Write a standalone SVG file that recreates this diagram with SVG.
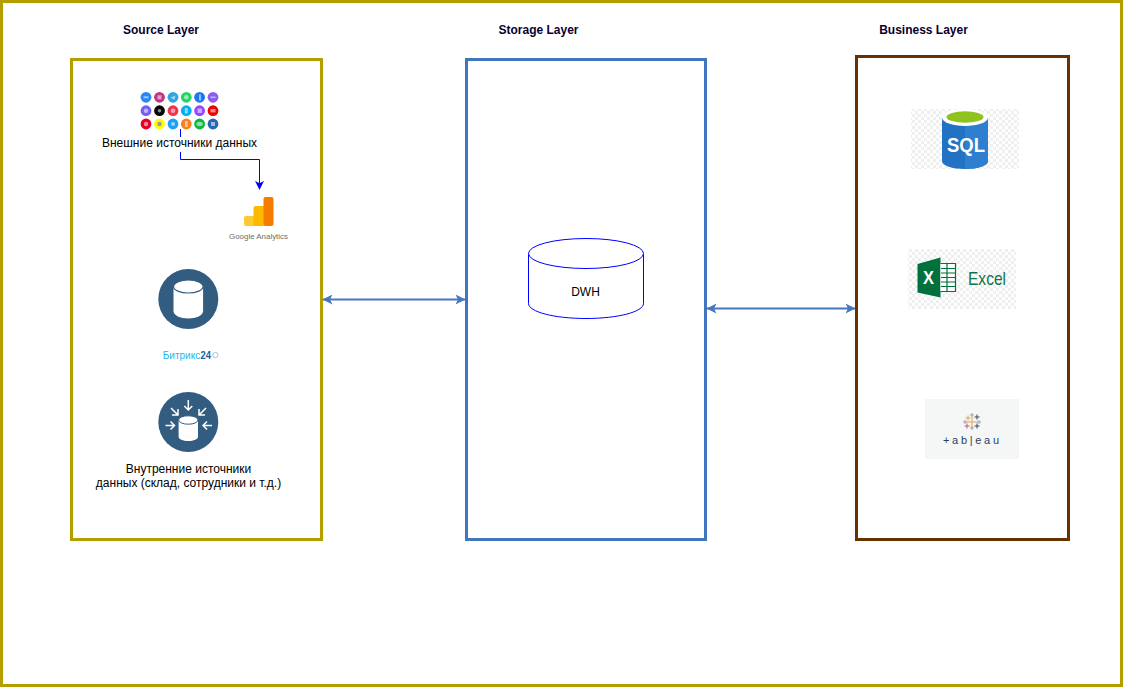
<svg xmlns="http://www.w3.org/2000/svg" width="1123" height="687" viewBox="0 0 1123 687">
<style>
text{font-family:"Liberation Sans",Arial,sans-serif;font-size:12px;fill:#000;text-anchor:middle}
.title{font-weight:bold;fill:#0b0030}
.frame{fill:none;stroke-width:3}
.olive{stroke:#b59f00}
.link{fill:none;stroke:#4677bf;stroke-width:2}
.flow{fill:none;stroke:#0000ff;stroke-width:1}
.dark{fill:#335c81}
.wh{fill:#fff}
.arw{fill:none;stroke:#fff;stroke-width:1.5}
.tb{fill:none;stroke-width:1}
</style>
<defs>
<marker id="hb" viewBox="0 0 10 10" refX="9.500" refY="5" markerWidth="5" markerHeight="5" orient="auto-start-reverse" markerUnits="strokeWidth"><path d="M0 0L10 5L0 10L2.500 5Z" fill="#4677bf"/></marker>
<marker id="bl" viewBox="0 0 10 10" refX="9" refY="5" markerWidth="9" markerHeight="9" orient="auto" markerUnits="strokeWidth"><path d="M0 0L10 5L0 10L2.500 5Z" fill="#0000ff"/></marker>
<pattern id="chk" width="6" height="6" patternUnits="userSpaceOnUse"><rect width="6" height="6" fill="#fff"/><rect width="3" height="3" fill="#efefef"/><rect x="3" y="3" width="3" height="3" fill="#efefef"/></pattern>
</defs>
<rect width="1123" height="687" fill="#fff"/>
<rect id="outer" class="frame olive" x="1.500" y="1.500" width="1120" height="684"/>

<g id="source-layer">
<rect class="frame olive" x="71.500" y="59.500" width="250" height="480"/>
<text class="title" x="161" y="34">Source Layer</text>
</g>
<g id="storage-layer">
<rect class="frame" stroke="#3f76bd" x="466.500" y="59.500" width="239" height="480"/>
<text class="title" x="538.500" y="34">Storage Layer</text>
</g>
<g id="business-layer">
<rect class="frame" stroke="#663300" x="856.500" y="56.500" width="212" height="483"/>
<text class="title" x="923.500" y="34">Business Layer</text>
</g>

<g id="external-sources">
<g>
<circle cx="146" cy="97.300" r="5.400" fill="#2787f5"/><circle cx="159.500" cy="97.300" r="5.400" fill="#c13584"/><circle cx="173" cy="97.300" r="5.400" fill="#2ca5e0"/><circle cx="186.300" cy="97.300" r="5.400" fill="#25d366"/><circle cx="199.600" cy="97.300" r="5.400" fill="#1877f2"/><circle cx="213" cy="97.300" r="5.400" fill="#8a5cf0"/>
<circle cx="146" cy="110.700" r="5.400" fill="#7360f2"/><circle cx="159.500" cy="110.700" r="5.400" fill="#050505"/><circle cx="173" cy="110.700" r="5.400" fill="#f0344f"/><circle cx="186.300" cy="110.700" r="5.400" fill="#00aff0"/><circle cx="199.600" cy="110.700" r="5.400" fill="#9146ff"/><circle cx="213" cy="110.700" r="5.400" fill="#f00000"/>
<circle cx="146" cy="124" r="5.400" fill="#e60023"/><circle cx="159.500" cy="124" r="5.400" fill="#fffc00"/><circle cx="173" cy="124" r="5.400" fill="#1da1f2"/><circle cx="186.300" cy="124" r="5.400" fill="#f58220"/><circle cx="199.600" cy="124" r="5.400" fill="#09b83e"/><circle cx="213" cy="124" r="5.400" fill="#2867b2"/>
<g fill="#fff" opacity=".55"><rect x="143.500" y="96.300" width="5" height="2"/><rect x="157.500" y="95.300" width="4" height="4"/><path d="M170.500 97.500l5-2-1 4.500z"/><circle cx="186.300" cy="97.300" r="2.300"/><rect x="199" y="94.500" width="2" height="6"/><rect x="210.500" y="96.500" width="5" height="1.600"/><circle cx="146" cy="110.700" r="2.300"/><circle cx="159.500" cy="110.700" r="1.800"/><circle cx="173" cy="110.700" r="2.300"/><rect x="184.800" y="108" width="3" height="5.400"/><rect x="197.500" y="108.500" width="4.500" height="4.500"/><rect x="210.500" y="109" width="5" height="3.400"/><circle cx="146" cy="124" r="2.200"/><circle cx="173" cy="124" r="2"/><rect x="185" y="121" width="2.600" height="6"/><ellipse cx="199.600" cy="124" rx="3.200" ry="2.200"/><rect x="211" y="122" width="4" height="4"/></g>
<circle cx="159.500" cy="124" r="2.200" fill="#999"/>
</g>
<text x="179.500" y="147">Внешние источники данных</text>
</g>

<g id="google-analytics">
<rect x="244" y="216" width="12" height="10" rx="2" fill="#ffc933"/>
<rect x="253.500" y="206" width="12" height="20" rx="2" fill="#fcb900"/>
<rect x="263.500" y="197" width="10" height="29" rx="2" fill="#f57c00"/>
<text x="258.500" y="238.500" style="font-size:8px;fill:#6d6d6d" textLength="59" lengthAdjust="spacingAndGlyphs">Google Analytics</text>
</g>

<g id="bitrix-db">
<circle class="dark" cx="188.300" cy="299" r="30"/>
<path class="wh" d="M173.500 286v25c0 4.500 6.700 7.500 14.800 7.500s14.800-3 14.800-7.500v-25z"/>
<ellipse cx="188.300" cy="286.500" rx="14.800" ry="6.500" fill="#fff" stroke="#335c81" stroke-width="1.200"/>
</g>
<g id="bitrix24">
<text x="162.700" y="359" style="font-size:10px;fill:#1fb5ee;text-anchor:start" textLength="37.500" lengthAdjust="spacingAndGlyphs">Битрикс</text>
<text x="200.500" y="359" style="font-size:10px;font-weight:bold;fill:#1c5f94;text-anchor:start" textLength="10.500" lengthAdjust="spacingAndGlyphs">24</text>
<circle cx="215.300" cy="355" r="2.600" fill="none" stroke="#8fb4c8" stroke-width=".8"/>
</g>

<g id="internal-sources">
<circle class="dark" cx="188.300" cy="422" r="30"/>
<path class="wh" d="M178.600 420v16.500c0 2.800 4.300 4.500 9.700 4.500s9.700-1.700 9.700-4.500V420z"/>
<ellipse cx="188.300" cy="420" rx="9.700" ry="4.200" fill="#fff" stroke="#335c81"/>
<path class="arw" d="M188.300 400v10M184.300 406l4 4 4-4M171 408l7 7M178 409v6h-6M206 408l-7 7M199 409v6h6M165.500 425.500h9M170.500 421.500l4 4-4 4M212 425.500h-9M207 421.500l-4 4 4 4"/>
<text x="188.500" y="473">Внутренние источники</text>
<text x="188.500" y="487">данных (склад, сотрудники и т.д.)</text>
</g>

<g id="dwh">
<path d="M528.500 253.500v50c0 8.300 25.700 15 57.500 15s57.500-6.700 57.500-15v-50" fill="#fff" stroke="#0000ff"/>
<ellipse cx="586" cy="253.500" rx="57.500" ry="15" fill="#fff" stroke="#0000ff"/>
<text x="585.500" y="296">DWH</text>
</g>

<g id="sql">
<rect x="911" y="109" width="108" height="60" fill="url(#chk)"/>
<path d="M942 118v43c0 4.500 10 8 23 8s23-3.500 23-8v-43z" fill="#2272c4"/>
<path d="M965 118h23v43c0 4.500-10 8-23 8z" fill="#2f7fd0"/>
<ellipse cx="965" cy="117.500" rx="23" ry="8.500" fill="#fff"/>
<ellipse cx="965" cy="117" rx="18.500" ry="5.800" fill="#8fc31f"/>
<text x="966" y="152" style="font-size:21px;font-weight:bold;fill:#fff" textLength="38" lengthAdjust="spacingAndGlyphs">SQL</text>
</g>

<g id="excel">
<rect x="908" y="249" width="108" height="60" fill="url(#chk)"/>
<path d="M917.500 264l23-6.500v40l-23-5z" fill="#00703c"/>
<path d="M940.500 263.500h15v28h-15" fill="#fff" stroke="#00703c" stroke-width="1.200"/>
<path d="M941 268.500h14M941 273h14M941 277.500h14M941 282h14M941 286.500h14M947 264v27" stroke="#00703c" stroke-width="1.200" fill="none"/>
<text x="928.500" y="284" style="font-size:18px;font-weight:bold;fill:#fff" textLength="11" lengthAdjust="spacingAndGlyphs">X</text>
<text x="987" y="285" style="font-size:19px;fill:#12744a" textLength="38" lengthAdjust="spacingAndGlyphs">Excel</text>
</g>

<g id="tableau">
<rect x="925" y="399" width="94" height="60" fill="#f5f6f6"/>
<path class="tb" stroke="#e8a04c" d="M972 416.500v11M966.500 422h11" stroke-width="1.500"/>
<path class="tb" stroke="#e8a04c" d="M965.500 418h5M968 415.500v5"/>
<path class="tb" stroke="#9aa6b2" d="M970 415h4M972 413v4M963 422h4M965 420v4M977 422h4M979 420v4M970 428h4M972 426v4"/>
<path class="tb" stroke="#2b4a6b" d="M974.500 417h5M977 414.500v5M974.500 426h5M977 423.500v5"/>
<path class="tb" stroke="#d0596a" d="M964.500 426h5M967 423.500v5"/>
<text x="971" y="444" style="font-size:11px;fill:#2d3e5c" textLength="56" lengthAdjust="spacing">+ab|eau</text>
</g>

<g id="connectors">
<path class="flow" d="M180.500 129v8"/>
<path class="flow" d="M180.500 152v7.500H259.500V189" marker-end="url(#bl)"/>
<path class="link" d="M323 299.500H465" marker-start="url(#hb)" marker-end="url(#hb)"/>
<path class="link" d="M707 308.500H855" marker-start="url(#hb)" marker-end="url(#hb)"/>
</g>
</svg>
